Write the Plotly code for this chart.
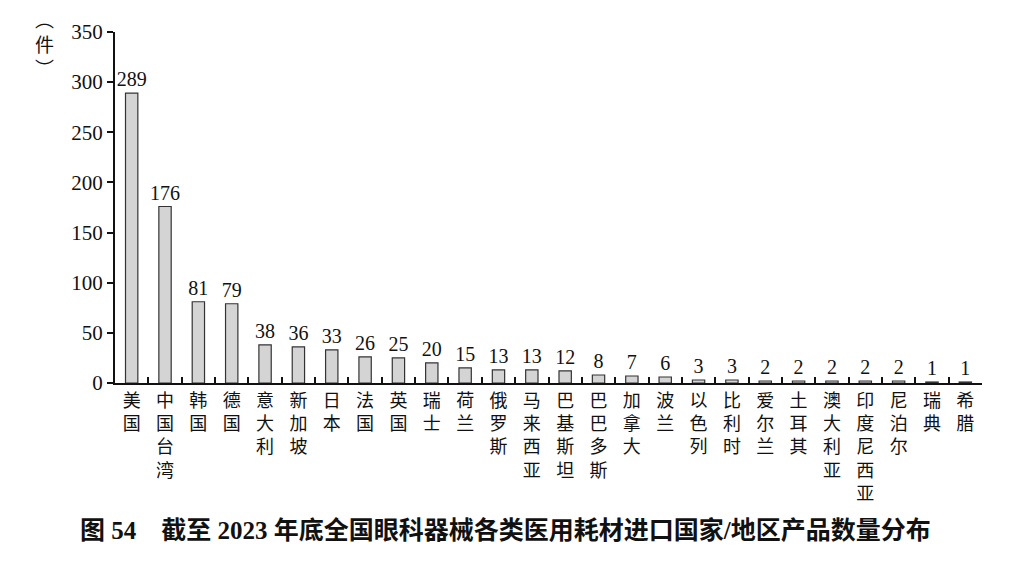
import plotly.graph_objects as go

categories = ["美国", "中国台湾", "韩国", "德国", "意大利", "新加坡", "日本", "法国", "英国", "瑞士",
              "荷兰", "俄罗斯", "马来西亚", "巴基斯坦", "巴巴多斯", "加拿大", "波兰", "以色列", "比利时",
              "爱尔兰", "土耳其", "澳大利亚", "印度尼西亚", "尼泊尔", "瑞典", "希腊"]
values = [289, 176, 81, 79, 38, 36, 33, 26, 25, 20, 15, 13, 13, 12, 8, 7, 6, 3, 3, 2, 2, 2, 2, 2, 1, 1]
y_ticks = [0, 50, 100, 150, 200, 250, 300, 350]

FONT = "Liberation Serif, Noto Sans CJK SC, serif"
vertical_labels = ["<br>".join(list(c)) for c in categories]

fig = go.Figure(go.Bar(
    x=vertical_labels,
    y=values,
    text=[str(v) for v in values],
    textposition="outside",
    constraintext="none",
    textfont=dict(family=FONT, size=20, color="#111"),
    outsidetextfont=dict(family=FONT, size=20, color="#111"),
    marker=dict(color="#d4d4d4", line=dict(color="#333", width=1.2)),
    cliponaxis=False,
))

fig.update_layout(
    width=1024, height=572,
    margin=dict(l=107, r=50, t=13, b=197),
    paper_bgcolor="white", plot_bgcolor="white",
    bargap=0.63,
    showlegend=False,
    font=dict(family=FONT, color="#111"),
)
fig.update_yaxes(
    range=[0, 350], tickvals=y_ticks, showgrid=False, zeroline=False,
    showline=True, linecolor="#111", linewidth=2,
    ticks="outside", ticklen=6, tickwidth=2, tickcolor="#111",
    tickfont=dict(family=FONT, size=21, color="#111"),
)
fig.update_xaxes(
    showgrid=False, showline=True, linecolor="#111", linewidth=2,
    ticks="inside", tickson="boundaries", ticklen=6, tickwidth=2, tickcolor="#111",
    tickfont=dict(family=FONT, size=18, color="#111"),
    tickangle=0,
)
fig.add_annotation(
    text="︵<br>件<br>︶", xref="paper", yref="paper", x=-0.081, y=0.962,
    showarrow=False, font=dict(family=FONT, size=19, color="#111"),
    xanchor="center", yanchor="middle",
)
fig.add_annotation(
    text="<b>图 54　截至 2023 年底全国眼科器械各类医用耗材进口国家/地区产品数量分布</b>",
    xref="paper", yref="paper", x=0.45, y=-0.42,
    showarrow=False, font=dict(family=FONT, size=25, color="#111"),
    xanchor="center", yanchor="middle",
)

fig.write_html("out.html")
